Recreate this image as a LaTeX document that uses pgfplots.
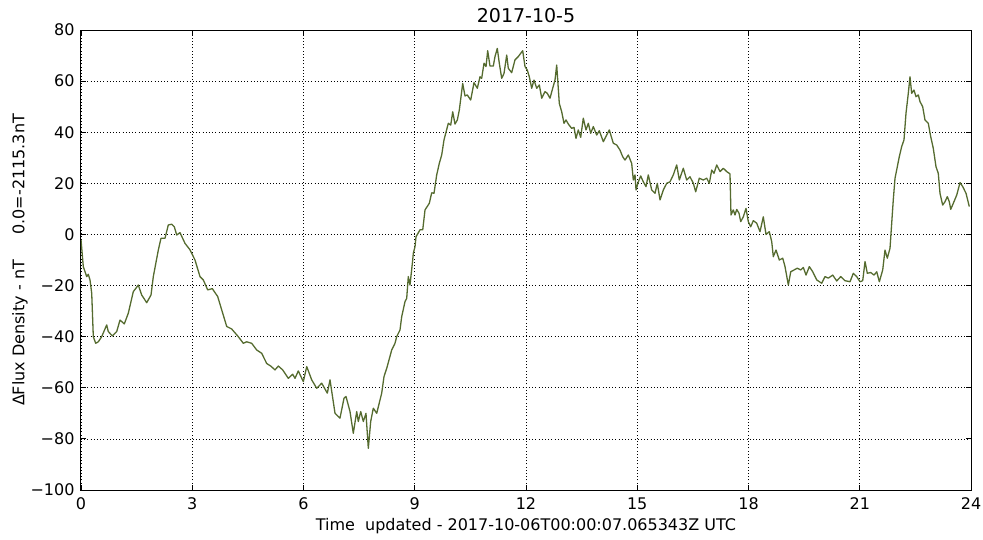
\documentclass[border=0pt]{standalone}
\usepackage{fontspec}
\setmainfont{DejaVu Sans}
\usepackage{pgfplots}
\pgfplotsset{compat=1.18}
\definecolor{olive}{HTML}{556B2F}

\begin{document}
\begin{tikzpicture}
\useasboundingbox (-81pt,-49pt) rectangle (902pt,490pt);
\begin{axis}[
    at={(0,0)}, anchor=south west,
    scale only axis,
    width=890pt, height=460pt,
    xmin=0, xmax=24, ymin=-100, ymax=80,
    xtick={0,3,...,24},
    ytick={-100,-80,...,80},
    yticklabels={−100,−80,−60,−40,−20,0,20,40,60,80},
    font=\fontsize{16}{19}\selectfont,
    /pgf/number format/assume math mode=true,
    tick align=inside,
    major tick length=5pt,
    tick style={black, line width=0.8pt},
    axis line style={line width=1pt},
    grid=major,
    major grid style={black, line width=0.6pt, dash pattern=on 1pt off 2.2pt},
    yticklabel style={xshift=-3pt},
    xticklabel style={yshift=-4pt},
    title={2017-10-5},
    title style={font=\fontsize{19}{22}\selectfont, at={(axis description cs:0.5,1.0174)}, anchor=center},
    xlabel={Time\ \ updated - 2017-10-06T00:00:07.065343Z UTC},
    xlabel style={at={(axis description cs:0.5,-0.0783)}, anchor=center},
    ylabel={ΔFlux Density - nT\ \ \ \ \ 0.0=-2115.3nT},
    ylabel style={at={(axis description cs:-0.0685,0.5)}, anchor=center, rotate=0},
]
\addplot[color=olive, line width=1.3pt, line join=round] coordinates {
(0.000,-2) (0.062,-12.6) (0.154,-16.5) (0.197,-15.6) (0.243,-17.8) (0.289,-23)
(0.332,-40) (0.396,-42.6) (0.467,-42) (0.558,-40) (0.693,-35.4) (0.736,-38)
(0.844,-39.7) (0.963,-38) (1.052,-33.5) (1.168,-35) (1.276,-30.8) (1.410,-22.4)
(1.545,-19.8) (1.637,-23.7) (1.772,-26.7) (1.888,-23.7) (1.950,-16.5) (2.085,-6.1)
(2.157,-1.5) (2.265,-1.5) (2.354,3.7) (2.446,4) (2.516,3) (2.581,-0.2) (2.670,0.7)
(2.805,-3.5) (2.939,-6) (3.074,-10) (3.209,-16.5) (3.298,-17.8) (3.417,-21.7)
(3.541,-21.2) (3.686,-24.3) (3.794,-29.5) (3.929,-36) (4.064,-37) (4.242,-40)
(4.377,-42.6) (4.468,-42) (4.603,-42.6) (4.738,-45.2) (4.873,-46.5) (5.008,-50.5)
(5.116,-51.5) (5.232,-53) (5.321,-51.5) (5.439,-53) (5.590,-56.3) (5.709,-54.7)
(5.771,-56.3) (5.860,-53.4) (5.995,-57.6) (6.087,-51.7) (6.221,-56.9) (6.356,-60.2)
(6.491,-58.2) (6.642,-62.1) (6.715,-56.9) (6.850,-70) (6.984,-71.9) (7.092,-64.1)
(7.146,-63.4) (7.254,-69.3) (7.343,-77.8) (7.435,-69.3) (7.478,-73.2) (7.543,-69.3)
(7.613,-73.2) (7.685,-70) (7.748,-83.7) (7.812,-73.2) (7.882,-68) (7.974,-70)
(8.109,-62.1) (8.171,-55.6) (8.244,-52.4) (8.379,-45.2) (8.467,-42.6) (8.513,-40)
(8.602,-37.4) (8.648,-32.2) (8.737,-26.3) (8.783,-25) (8.826,-16.5) (8.872,-19.8)
(8.945,-10) (8.961,-7.4) (9.007,-4.8) (9.034,-0.9) (9.142,1.8) (9.215,1.8)
(9.277,9.6) (9.393,12.2) (9.457,16.3) (9.519,16.1) (9.592,23.3) (9.662,27.8)
(9.727,31.1) (9.789,37) (9.905,43.5) (9.970,42.8) (10.024,48) (10.085,43.2)
(10.148,44.8) (10.202,48.7) (10.293,59.1) (10.355,54.2) (10.417,54.6) (10.509,52.6)
(10.598,59.4) (10.687,57.2) (10.760,61.7) (10.805,61.1) (10.868,67) (10.922,65.7)
(10.967,71.9) (11.029,65.9) (11.118,65.9) (11.164,69.6) (11.226,72.8) (11.280,67)
(11.345,61.1) (11.407,63) (11.480,70.2) (11.523,65) (11.614,63.3) (11.703,68.3)
(11.792,69.6) (11.911,71.9) (11.973,65.7) (12.035,64.3) (12.089,61.7) (12.154,57.2)
(12.216,60.4) (12.289,57.2) (12.359,58.5) (12.424,53.3) (12.513,55.9) (12.575,55.2)
(12.647,53.3) (12.720,57.2) (12.782,60.4) (12.828,66.3) (12.898,51.3) (12.963,48)
(13.025,43.5) (13.079,44.8) (13.141,43.2) (13.232,41.5) (13.295,41.9) (13.348,37.6)
(13.410,40.9) (13.475,38) (13.545,45.5) (13.618,40.9) (13.680,43.5) (13.745,39.6)
(13.815,42.2) (13.907,38.9) (13.977,40.6) (14.085,36.3) (14.176,38.9) (14.247,40.9)
(14.354,35.7) (14.446,35) (14.535,33) (14.608,30.4) (14.670,29.1) (14.759,31.1)
(14.850,27.8) (14.894,21.3) (14.940,23.3) (14.967,17.4) (15.029,20.6) (15.093,22.9)
(15.163,20.6) (15.236,18.7) (15.298,23.3) (15.390,17.4) (15.479,16.1) (15.541,20)
(15.614,13.5) (15.703,17.4) (15.794,20) (15.883,20.6) (15.972,23.3) (16.064,27.2)
(16.134,21.3) (16.242,25.9) (16.333,21.3) (16.422,22.6) (16.512,20) (16.576,16.7)
(16.673,22) (16.781,21.3) (16.873,22) (16.943,20) (17.008,25.2) (17.070,23.9)
(17.143,27.2) (17.232,24.6) (17.321,25.9) (17.412,24.6) (17.501,23.7) (17.528,7.6)
(17.590,9.6) (17.636,7.6) (17.682,9.8) (17.744,8.3) (17.790,5) (17.860,6.9)
(17.933,10.2) (17.995,5) (18.059,3) (18.130,5.4) (18.221,4.4) (18.310,1.1)
(18.399,6.9) (18.472,0) (18.561,1.1) (18.626,-2.8) (18.669,-8.7) (18.742,-6.1)
(18.831,-10) (18.923,-9.3) (18.985,-12.6) (19.074,-19.8) (19.139,-14.6) (19.228,-13.9)
(19.316,-13.2) (19.408,-13.9) (19.478,-12.9) (19.551,-15.9) (19.640,-12.6) (19.732,-14.6)
(19.840,-17.8) (19.974,-19.1) (20.063,-16.5) (20.152,-17.1) (20.271,-15.9) (20.379,-18.2)
(20.487,-16.5) (20.603,-18.1) (20.738,-18.5) (20.826,-15.2) (20.918,-16.5) (21.007,-18.5)
(21.080,-18.1) (21.142,-10.6) (21.204,-15.2) (21.296,-14.9) (21.385,-15.9) (21.458,-14.6)
(21.528,-18.5) (21.619,-13.9) (21.681,-6.1) (21.743,-9.3) (21.816,-5.4) (21.904,13.5)
(21.951,22) (22.013,26.5) (22.066,30.4) (22.131,34.4) (22.193,37) (22.247,47.4)
(22.309,55.2) (22.355,61.7) (22.400,55.2) (22.462,56.5) (22.517,53.9) (22.579,54.6)
(22.624,52) (22.697,50) (22.759,44.8) (22.848,43.5) (22.913,38.3) (22.983,33.7)
(23.056,26.5) (23.118,23.9) (23.164,16.1) (23.236,11.5) (23.299,12.8) (23.361,14.8)
(23.415,12.8) (23.453,9.8) (23.523,12.2) (23.615,15.4) (23.704,20.3) (23.777,18.7)
(23.866,16.1) (23.954,10.9)
};
\end{axis}
\end{tikzpicture}
\end{document}
